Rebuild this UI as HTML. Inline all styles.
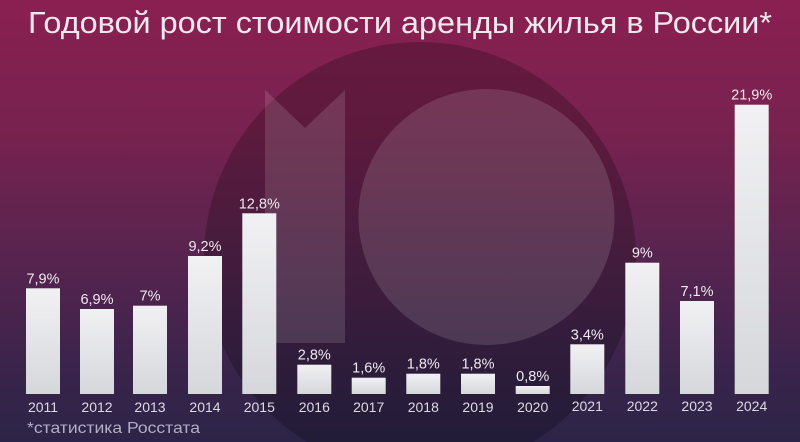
<!DOCTYPE html>
<html>
<head>
<meta charset="utf-8">
<style>
  html, body { margin:0; padding:0; width:800px; height:442px; overflow:hidden; background:#2d2449; }
  svg { display:block; }
</style>
</head>
<body>
<svg width="800" height="442" viewBox="0 0 800 442" xmlns="http://www.w3.org/2000/svg">
  <defs>
    <linearGradient id="bg" x1="0" y1="0" x2="0" y2="1">
      <stop offset="0" stop-color="#8a2051"/>
      <stop offset="0.3" stop-color="#77224f"/>
      <stop offset="0.6" stop-color="#55244f"/>
      <stop offset="0.85" stop-color="#38244b"/>
      <stop offset="1" stop-color="#2c2448"/>
    </linearGradient>
    <linearGradient id="bar" x1="0" y1="0" x2="0" y2="1">
      <stop offset="0" stop-color="#f1f1f4"/>
      <stop offset="1" stop-color="#d6d7db"/>
    </linearGradient>
  </defs>
  <rect x="0" y="0" width="800" height="442" fill="url(#bg)"/>
  <!-- logo background (circle cx=420 cy=258 r=216, cut at bottom edge) -->
  <path d="M 306.9 442 A 216 216 0 1 1 533.1 442 Z" fill="#000" fill-opacity="0.22"/>
  <circle cx="486.5" cy="217" r="128" fill="#fff" fill-opacity="0.13"/>
  <polygon points="265,90 305,128 345,90 345,343 265,343" fill="#fff" fill-opacity="0.13"/>

  <!-- title -->
  <text x="28" y="33" font-family="'Liberation Sans', Arial, sans-serif" font-size="31" fill="#f1e8ef" textLength="744" lengthAdjust="spacingAndGlyphs">Годовой рост стоимости аренды жилья в России*</text>

  <!-- bars -->
  <g fill="url(#bar)">
    <rect x="26" y="288.3" width="34" height="105.7"/>
    <rect x="80" y="309" width="34" height="85"/>
    <rect x="133" y="305.7" width="34" height="88.3"/>
    <rect x="188" y="256" width="34" height="138"/>
    <rect x="242.3" y="213.3" width="34" height="180.7"/>
    <rect x="297.3" y="364.7" width="34" height="29.3"/>
    <rect x="351.7" y="377.7" width="34" height="16.3"/>
    <rect x="406.3" y="373.7" width="34" height="20.3"/>
    <rect x="461" y="373.7" width="34" height="20.3"/>
    <rect x="515.7" y="386" width="34" height="8"/>
    <rect x="570.3" y="344.3" width="34" height="49.7"/>
    <rect x="625.3" y="262.7" width="34" height="131.3"/>
    <rect x="680" y="301" width="34" height="93"/>
    <rect x="734.7" y="104.7" width="34" height="289.3"/>
  </g>

  <!-- value labels -->
  <g font-family="'Liberation Sans', Arial, sans-serif" font-size="14.5" fill="#efe8f0" text-anchor="middle">
    <text x="43" y="283.3">7,9%</text>
    <text x="97" y="304">6,9%</text>
    <text x="150" y="300.7">7%</text>
    <text x="205" y="251">9,2%</text>
    <text x="259.3" y="208.3">12,8%</text>
    <text x="314.3" y="359.7">2,8%</text>
    <text x="368.7" y="372.7">1,6%</text>
    <text x="423.3" y="368.7">1,8%</text>
    <text x="478" y="368.7">1,8%</text>
    <text x="532.7" y="381">0,8%</text>
    <text x="587.3" y="339.3">3,4%</text>
    <text x="642.3" y="257.7">9%</text>
    <text x="697" y="296">7,1%</text>
    <text x="751.7" y="99.7">21,9%</text>
  </g>

  <!-- year labels -->
  <g font-family="'Liberation Sans', Arial, sans-serif" font-size="14" fill="#dedae4" text-anchor="middle">
    <text x="43" y="412">2011</text>
    <text x="97" y="412">2012</text>
    <text x="150" y="412">2013</text>
    <text x="205" y="412">2014</text>
    <text x="259.3" y="412">2015</text>
    <text x="314.3" y="412">2016</text>
    <text x="368.7" y="412">2017</text>
    <text x="423.3" y="412">2018</text>
    <text x="478" y="412">2019</text>
    <text x="532.7" y="412">2020</text>
    <text x="587.3" y="411">2021</text>
    <text x="642.3" y="411">2022</text>
    <text x="697" y="411">2023</text>
    <text x="751.7" y="411">2024</text>
  </g>

  <!-- footnote -->
  <text x="27" y="433" font-family="'Liberation Sans', Arial, sans-serif" font-size="16" fill="#b4aec4" textLength="173" lengthAdjust="spacingAndGlyphs">*статистика Росстата</text>
</svg>
</body>
</html>
